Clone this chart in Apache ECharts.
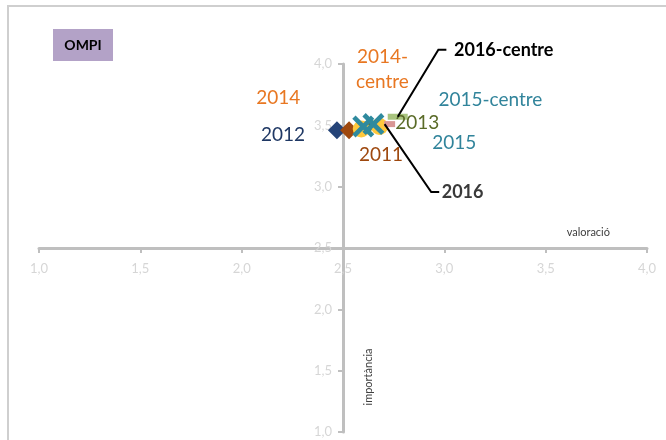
<!DOCTYPE html>
<html><head><meta charset="utf-8">
<script src="https://cdn.jsdelivr.net/npm/echarts@6/dist/echarts.min.js"></script>
<style>html,body{margin:0;padding:0;background:#fff}#c{width:666px;height:440px}</style>
</head><body><div id="c"></div>
<script>
// ---- data ----
const seriesNames = ['2012','2011','2013','2014','2014-centre','2015','2015-centre','2016','2016-centre'];
const valoracio   = [2.47, 2.53, 2.63, 2.59, 2.68, 2.60, 2.65, 2.73, 2.77];
const importancia = [3.46, 3.46, 3.49, 3.47, 3.49, 3.49, 3.51, 3.51, 3.57];
const tickValues  = [1.0, 1.5, 2.0, 2.5, 3.0, 3.5, 4.0];
const labelTexts  = ['2012','2011','2013','2014','2014-\ncentre','2015','2015-centre','2016','2016-centre'];
const axisCross = 2.5;
const xTitle = 'valoració', yTitle = 'importància', boxTitle = 'OMPI';

// ---- styles ----
const X_PATH = 'path://M0,3 L3,0 L10,7 L17,0 L20,3 L13,10 L20,17 L17,20 L10,13 L3,20 L0,17 L7,10 Z';
const styles = {
  '2012':        {symbol:'diamond', size:18, color:'#254478', lab:'#1F3864', off:[-54,5]},
  '2011':        {symbol:'diamond', size:18, color:'#9E480E', lab:'#9E480E', off:[32,25]},
  '2013':        {symbol:'diamond', size:12, color:'#636E2B', lab:'#5A6B28', off:[48,-4]},
  '2014':        {symbol:'circle',  size:17, color:'#FFC83D', lab:'#E87722', off:[-83,-31]},
  '2014-centre': {symbol:'circle',  size:17, color:'#FFC83D', lab:'#E87722', off:[3,-57]},
  '2015':        {symbol:X_PATH,    size:22, color:'#2F8A9E', lab:'#31849B', off:[91,16]},
  '2015-centre': {symbol:X_PATH,    size:22, color:'#2F8A9E', lab:'#31849B', off:[117,-24]},
  '2016':        {symbol:'rect',    size:[11,6], color:'#D99694', lab:'#3A3A3A', off:[73,68], bold:true, leader:true},
  '2016-centre': {symbol:'rect',    size:[20,6], color:'#A9C47F', lab:'#000000', off:[106,-67], bold:true, leader:true}
};

const fmt = v => v.toFixed(1).replace('.', ',');
const tMin = tickValues[0], tMax = tickValues[tickValues.length-1];

const series = seriesNames.map((n, i) => {
  const s = styles[n];
  return {
    type: 'scatter', name: n,
    symbol: s.symbol, symbolSize: s.size,
    itemStyle: {color: s.color, opacity: 1},
    data: [[valoracio[i], importancia[i]]],
    label: {
      show: true, position: 'inside', offset: s.off,
      formatter: labelTexts[i],
      color: s.lab, fontFamily: 'Lato', fontSize: s.bold ? 18 : 19,
      fontWeight: s.bold ? 'bold' : 'normal', lineHeight: 25, align: 'center'
    },
    emphasis: {disabled: true}
  };
});

const W = 666, H = 440;
const grid = {left: 39, right: 19, top: 64, bottom: 8};
const gw = W - grid.left - grid.right, gh = H - grid.top - grid.bottom;
const frac = (axisCross - tMin) / (tMax - tMin);

const axisCommon = {
  type: 'value', min: tMin, max: tMax, interval: 0.5,
  axisLine: {onZero: false, lineStyle: {color: '#BFBFBF', width: 3}},
  axisTick: {show: true, length: 5, lineStyle: {color: '#BFBFBF', width: 2}},
  axisLabel: {formatter: fmt, color: '#D6D6D6', fontFamily: 'Lato', fontSize: 13},
  splitLine: {show: false}
};

const chart = echarts.init(document.getElementById('c'), null, {renderer: 'canvas'});
chart.setOption({
  animation: false,
  backgroundColor: '#fff',
  grid: Object.assign({containLabel: false, outerBoundsMode: 'none'}, grid),
  xAxis: Object.assign({}, axisCommon, {position: 'bottom', offset: -gh * frac,
    axisLabel: Object.assign({}, axisCommon.axisLabel, {margin: 14})}),
  yAxis: Object.assign({}, axisCommon, {position: 'left', offset: -gw * frac,
    axisLabel: Object.assign({}, axisCommon.axisLabel, {margin: 11})}),
  series: series
});

// leader lines and titles
const g = [
  {type: 'rect', shape: {x: 8, y: 6, width: 700, height: 500}, style: {fill: 'none', stroke: '#CFCFCF', lineWidth: 2}, z: -1},
  {type: 'rect', shape: {x: 53, y: 29, width: 60, height: 32}, style: {fill: '#B3A2C7'}},
  {type: 'text', x: 83, y: 45, style: {text: boxTitle, fill: '#000', font: 'bold 14px Lato', align: 'center', verticalAlign: 'middle'}}
];
const xEnd = chart.convertToPixel({gridIndex: 0}, [tMax, axisCross]);
g.push({type: 'text', x: xEnd[0] - 37, y: xEnd[1] - 16, style: {text: xTitle, fill: '#404040', font: '11px Lato', align: 'right', verticalAlign: 'middle'}});
const yLow = chart.convertToPixel({gridIndex: 0}, [axisCross, tMin]);
g.push({type: 'text', x: yLow[0] + 25, y: yLow[1] - 55, rotation: Math.PI/2, style: {text: yTitle, fill: '#404040', font: '11px Lato', align: 'center', verticalAlign: 'middle'}});
seriesNames.forEach((n, i) => {
  const s = styles[n];
  if (!s.leader) return;
  const p = chart.convertToPixel({gridIndex: 0}, [valoracio[i], importancia[i]]);
  const w = n.length * 9.7;
  const lx = p[0] + s.off[0] - w/2, ly = p[1] + s.off[1];
  g.push({type: 'polyline', shape: {points: [[p[0] - (n === '2016' ? 5 : 0), p[1]], [lx - 12, ly], [lx - 4, ly]]},
          style: {stroke: '#000', lineWidth: 2, fill: 'none'}, z: 10});
});
chart.setOption({graphic: g});
</script>
</body></html>
